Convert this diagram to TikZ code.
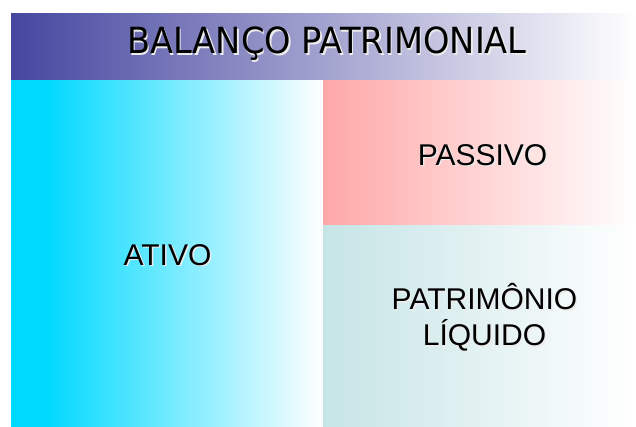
\documentclass[tikz,border=0pt]{standalone}
\usepackage{fontspec}
\setmainfont{Liberation Sans}
\newfontfamily\titlefont[FakeStretch=0.935]{DejaVu Sans}
\definecolor{titleblue}{RGB}{70,70,160}
\definecolor{ativocyan}{RGB}{0,217,255}
\definecolor{passivopink}{RGB}{255,168,168}
\definecolor{plgreen}{RGB}{198,228,230}
\pgfdeclarehorizontalshading{ativoshade}{100bp}{color(0bp)=(ativocyan); color(30.5bp)=(ativocyan); color(75bp)=(white); color(100bp)=(white)}
\begin{document}
\begin{tikzpicture}[x=1pt,y=-1pt,
	boxtext/.style={anchor=base,inner sep=0pt,align=center,font=\fontsize{30}{36}\selectfont},
	shadowtext/.style={boxtext,text=white!85!gray}]
	\fill[white] (0,0) rectangle (636,426);
	\useasboundingbox (0,0) rectangle (636,426);
	% boxes
	\shade[left color=titleblue,right color=white] (11,13) rectangle (636,80);
	\shade[shading=ativoshade] (11,80) rectangle (323,426);
	\shade[left color=passivopink,right color=white] (323,80) rectangle (636,225);
	\shade[left color=plgreen,right color=white] (323,225) rectangle (636,426);
	% texts
	\node[shadowtext,font=\titlefont\fontsize{36}{40}\selectfont] (tituloS) at (328.5,55) {BALANÇO PATRIMONIAL};
	\node[boxtext,font=\titlefont\fontsize{36}{40}\selectfont] (titulo) at (327,53.5) {BALANÇO PATRIMONIAL};
	\node[shadowtext] (ativoS) at (169,266.5) {ATIVO};
	\node[boxtext] (ativo) at (167.5,265) {ATIVO};
	\node[shadowtext] (passivoS) at (484,166.5) {PASSIVO};
	\node[boxtext] (passivo) at (482.5,165) {PASSIVO};
	% base of a two-line node is the last line
	\node[shadowtext] (plS) at (486,347) {PATRIMÔNIO\\LÍQUIDO};
	\node[boxtext] (pl) at (484.5,345.5) {PATRIMÔNIO\\LÍQUIDO};
\end{tikzpicture}
\end{document}
